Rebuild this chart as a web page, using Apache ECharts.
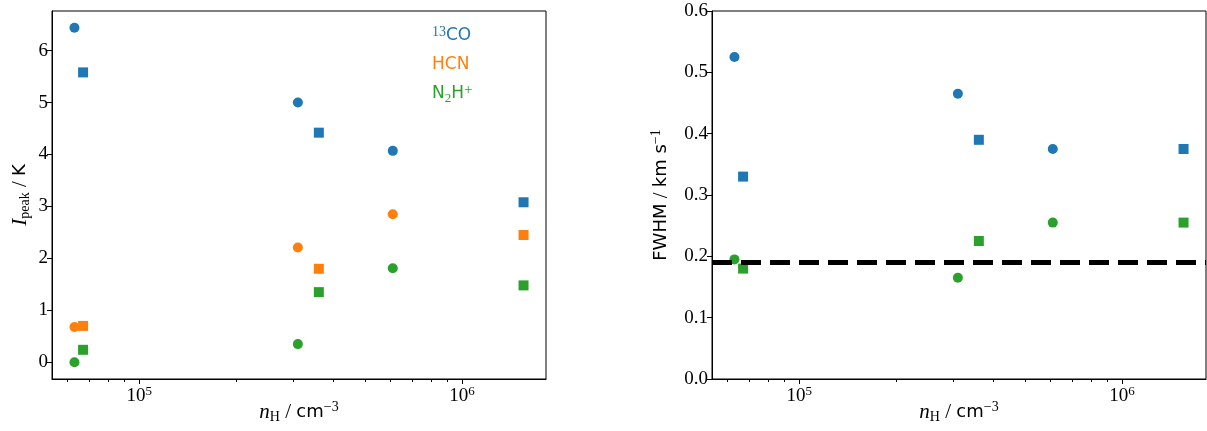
<!DOCTYPE html>
<html>
<head>
<meta charset="utf-8">
<script src="https://cdn.jsdelivr.net/npm/echarts@6/dist/echarts.min.js"></script>
<style>
  html, body { margin: 0; padding: 0; background: #fff; }
  #chart { width: 1207px; height: 431px; }
</style>
</head>
<body>
<div id="chart"></div>
<script>
// Hydrogen densities of the two model sets (circles / squares), cm^-3
const circleDensity = [6.3e4, 3.1e5, 6.1e5];
const squareDensity = [6.7e4, 3.6e5, 1.55e6];

// Peak intensities, K
const peakCOCircle  = [6.44, 5.00, 4.07];
const peakCOSquare  = [5.58, 4.42, 3.08];
const peakHCNCircle = [0.68, 2.21, 2.85];
const peakHCNSquare = [0.70, 1.80, 2.45];
const peakN2HCircle = [0.00, 0.35, 1.81];
const peakN2HSquare = [0.24, 1.35, 1.48];

// Line widths (FWHM), km/s
const fwhmCOCircle  = [0.525, 0.465, 0.375];
const fwhmCOSquare  = [0.330, 0.390, 0.375];
const fwhmN2HCircle = [0.195, 0.165, 0.255];
const fwhmN2HSquare = [0.180, 0.225, 0.255];
const fwhmThreshold = 0.188;

// Axis ticks
const peakTicks = [0, 1, 2, 3, 4, 5, 6];
const fwhmTicks = [0, 0.1, 0.2, 0.3, 0.4, 0.5, 0.6];
const densityMajorTicks = [1e5, 1e6];
const densityMinorTicks = [6e4, 7e4, 8e4, 9e4, 2e5, 3e5, 4e5, 5e5, 6e5, 7e5, 8e5, 9e5];

// Species labels
const speciesNames = ['13CO', 'HCN', 'N2H+'];
const speciesColors = ['#1f77b4', '#ff7f0e', '#2ca02c'];

const SERIF = '"Liberation Serif", "DejaVu Serif", serif';
const SANS = '"DejaVu Sans", sans-serif';

// 5% padding around the data, as in the usual plotting defaults
const allDensity = circleDensity.concat(squareDensity);
const lgLo = Math.log10(Math.min(...allDensity));
const lgHi = Math.log10(Math.max(...allDensity));
const lgPad = 0.05 * (lgHi - lgLo);
const xMin = Math.pow(10, lgLo - lgPad);
const xMax = Math.pow(10, lgHi + lgPad);

const allPeak = [].concat(peakCOCircle, peakCOSquare, peakHCNCircle, peakHCNSquare, peakN2HCircle, peakN2HSquare);
const pLo = Math.min(...allPeak), pHi = Math.max(...allPeak);
const pPad = 0.05 * (pHi - pLo);

function points(circles, squares) {
  return circleDensity.map((x, i) => ({ value: [x, circles[i]], symbol: 'circle', symbolSize: 10 }))
    .concat(squareDensity.map((x, i) => ({ value: [x, squares[i]], symbol: 'rect', symbolSize: 10 })));
}

const tickLabelStyle = {
  color: '#000',
  fontFamily: SERIF,
  fontSize: 19
};

const nameRich = {
  i:   { fontFamily: SERIF, fontStyle: 'italic', fontSize: 21, color: '#000', lineHeight: 24 },
  sub: { fontFamily: SERIF, fontSize: 14, color: '#000', verticalAlign: 'bottom', lineHeight: 13 },
  t:   { fontFamily: SERIF, fontSize: 21, color: '#000', lineHeight: 24 },
  s:   { fontFamily: SANS, fontSize: 18, color: '#000', lineHeight: 24 },
  sup: { fontFamily: SERIF, fontSize: 14, color: '#000', verticalAlign: 'top', lineHeight: 11 }
};

function powerLabel(v) {
  const e = Math.round(Math.log10(v));
  return '{b|10}{e|' + e + '}';
}
const powerRich = {
  b: { fontFamily: SERIF, fontSize: 19, color: '#000', lineHeight: 22 },
  e: { fontFamily: SERIF, fontSize: 13, color: '#000', verticalAlign: 'top', lineHeight: 11 }
};

function densityAxes(gridIndex) {
  return [
    {
      type: 'log', logBase: 10, gridIndex, min: xMin, max: xMax,
      name: '{i|n}{sub|H}{t| / }{s|cm}{sup|−3}',
      nameLocation: 'middle', nameGap: 21, nameMoveOverlap: false,
      nameTextStyle: { rich: nameRich },
      axisLine: { show: true, onZero: false, lineStyle: { color: '#000', width: 1 } },
      axisTick: { show: true, length: 5, lineStyle: { color: '#000', width: 1 }, customValues: densityMajorTicks },
      axisLabel: { show: true, margin: 6, formatter: powerLabel, rich: powerRich, customValues: densityMajorTicks },
      splitLine: { show: false },
      minorTick: { show: false },
      minorSplitLine: { show: false }
    },
    {
      type: 'log', logBase: 10, gridIndex, min: xMin, max: xMax,
      position: 'bottom',
      axisLine: { show: false, onZero: false },
      axisTick: { show: true, length: 3, lineStyle: { color: '#000', width: 1 }, customValues: densityMinorTicks },
      axisLabel: { show: false, customValues: densityMinorTicks },
      splitLine: { show: false }
    }
  ];
}

const legendRich = {
  cs:  { fontFamily: SERIF, fontSize: 14, color: speciesColors[0], verticalAlign: 'top', lineHeight: 11 },
  c:   { fontFamily: SANS, fontSize: 17, color: speciesColors[0], lineHeight: 22 },
  h:   { fontFamily: SANS, fontSize: 17, color: speciesColors[1], lineHeight: 22 },
  n:   { fontFamily: SANS, fontSize: 17, color: speciesColors[2], lineHeight: 22 },
  nsb: { fontFamily: SERIF, fontSize: 13, color: speciesColors[2], verticalAlign: 'bottom', lineHeight: 12 },
  nsp: { fontFamily: SERIF, fontSize: 15, color: speciesColors[2], verticalAlign: 'top', lineHeight: 11 }
};
const legendText = {
  '13CO': '{cs|13}{c|CO}',
  'HCN': '{h|HCN}',
  'N2H+': '{n|N}{nsb|2}{n|H}{nsp|+}'
};

const option = {
  backgroundColor: '#fff',
  animation: false,
  grid: [
    { left: 52, top: 11, width: 494, height: 368, show: true, borderColor: '#000', borderWidth: 1,
      containLabel: false, outerBoundsMode: 'none' },
    { left: 712, top: 11, width: 494, height: 368, show: true, borderColor: '#000', borderWidth: 1,
      containLabel: false, outerBoundsMode: 'none' }
  ],
  legend: {
    orient: 'vertical',
    left: 422, top: 20,
    itemWidth: 0, itemHeight: 0, itemGap: 7,
    icon: 'none',
    selectedMode: false,
    data: speciesNames,
    formatter: name => legendText[name],
    textStyle: { rich: legendRich, lineHeight: 22 }
  },
  xAxis: densityAxes(0).concat(densityAxes(1)),
  yAxis: [
    {
      type: 'value', gridIndex: 0, min: pLo - pPad, max: pHi + pPad,
      name: '{i|I}{sub|peak}{t| / }{s|K}',
      nameLocation: 'middle', nameGap: 20, nameRotate: 90, nameMoveOverlap: false,
      nameTextStyle: { rich: nameRich },
      axisLine: { show: true, onZero: false, lineStyle: { color: '#000', width: 1 } },
      axisTick: { show: true, length: 5, lineStyle: { color: '#000', width: 1 }, customValues: peakTicks },
      axisLabel: Object.assign({ margin: 4, customValues: peakTicks }, tickLabelStyle),
      splitLine: { show: false }
    },
    {
      type: 'value', gridIndex: 1, min: 0, max: 0.6,
      name: '{s|FWHM}{t| / }{s|km s}{sup|−1}',
      nameLocation: 'middle', nameGap: 39, nameRotate: 90, nameMoveOverlap: false,
      nameTextStyle: { rich: nameRich },
      axisLine: { show: true, onZero: false, lineStyle: { color: '#000', width: 1 } },
      axisTick: { show: true, length: 5, lineStyle: { color: '#000', width: 1 }, customValues: fwhmTicks },
      axisLabel: Object.assign({ margin: 4, customValues: fwhmTicks, formatter: v => v.toFixed(1) }, tickLabelStyle),
      splitLine: { show: false }
    }
  ],
  series: [
    // Left panel: peak intensity
    { name: speciesNames[0], type: 'scatter', xAxisIndex: 0, yAxisIndex: 0, z: 3,
      itemStyle: { color: speciesColors[0], opacity: 1 }, data: points(peakCOCircle, peakCOSquare) },
    { name: speciesNames[1], type: 'scatter', xAxisIndex: 0, yAxisIndex: 0, z: 3,
      itemStyle: { color: speciesColors[1], opacity: 1 }, data: points(peakHCNCircle, peakHCNSquare) },
    { name: speciesNames[2], type: 'scatter', xAxisIndex: 0, yAxisIndex: 0, z: 3,
      itemStyle: { color: speciesColors[2], opacity: 1 }, data: points(peakN2HCircle, peakN2HSquare) },
    // Right panel: line widths
    { name: speciesNames[0], type: 'scatter', xAxisIndex: 2, yAxisIndex: 1, z: 3,
      itemStyle: { color: speciesColors[0], opacity: 1 }, data: points(fwhmCOCircle, fwhmCOSquare) },
    { name: speciesNames[2], type: 'scatter', xAxisIndex: 2, yAxisIndex: 1, z: 3,
      itemStyle: { color: speciesColors[2], opacity: 1 }, data: points(fwhmN2HCircle, fwhmN2HSquare) },
    // Resolution limit
    { name: 'threshold', type: 'line', xAxisIndex: 2, yAxisIndex: 1, z: 2, data: [],
      markLine: {
        silent: true, symbol: ['none', 'none'], animation: false,
        label: { show: false },
        lineStyle: { color: '#000', width: 5, type: [20, 9] },
        data: [{ yAxis: fwhmThreshold }]
      }
    }
  ]
};

const chart = echarts.init(document.getElementById('chart'), null, { renderer: 'canvas' });
chart.setOption(option);
</script>
</body>
</html>
